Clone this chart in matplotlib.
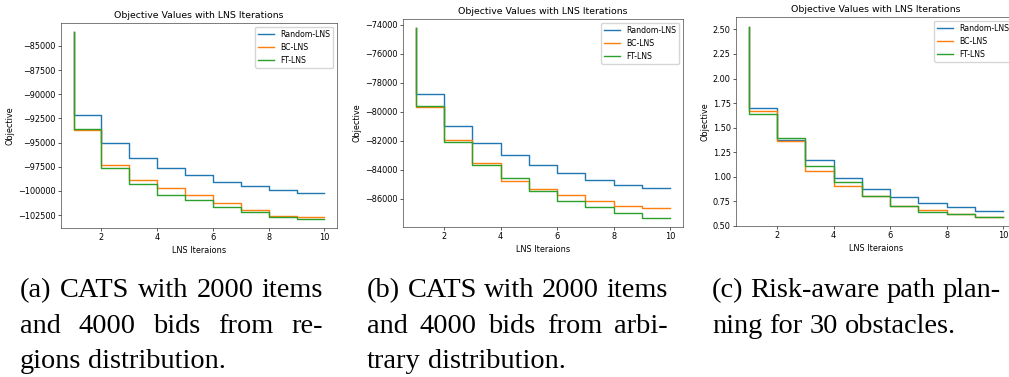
import matplotlib
matplotlib.use("Agg")
import matplotlib.pyplot as plt

# ---- data ----
iters = list(range(1, 11))
series_names = ["Random-LNS", "BC-LNS", "FT-LNS"]

# (a) CATS regions
regions_random = [-83600, -92200, -95000, -96550, -97600, -98380, -99030, -99480, -99890, -100230]
regions_bc = [-83600, -93750, -97280, -98830, -99720, -100400, -101220, -101980, -102560, -102730]
regions_ft = [-83600, -93640, -97660, -99270, -100400, -100950, -101670, -102220, -102660, -102870]

# (b) CATS arbitrary
arbitrary_random = [-74250, -78800, -80970, -82140, -82940, -83670, -84200, -84680, -85060, -85250]
arbitrary_bc = [-74250, -79690, -81930, -83510, -84790, -85300, -85700, -86160, -86480, -86640]
arbitrary_ft = [-74250, -79600, -82090, -83670, -84560, -85430, -86160, -86550, -86960, -87280]

# (c) risk-aware path planning
path_random = [2.53, 1.703, 1.37, 1.172, 0.99, 0.878, 0.79, 0.733, 0.689, 0.649]
path_bc = [2.53, 1.669, 1.365, 1.057, 0.909, 0.80, 0.703, 0.659, 0.625, 0.595]
path_ft = [2.53, 1.642, 1.395, 1.105, 0.946, 0.804, 0.70, 0.645, 0.618, 0.595]

captions = [
    ["(a) CATS with 2000 items", "and 4000 bids from re-", "gions distribution."],
    ["(b) CATS with 2000 items", "and 4000 bids from arbi-", "trary distribution."],
    ["(c) Risk-aware path plan-", "ning for 30 obstacles."],
]

W, H = 1009, 377
s = 0.56  # the panels are shrunk copies of default matplotlib figures
plt.rcParams.update({
    "font.size": 10.5 * s,
    "axes.titlesize": 12 * s,
    "axes.titlepad": 6 * s,
    "axes.labelpad": 4 * s,
    "lines.linewidth": 1.8 * s,
    "axes.linewidth": 0.8 * s,
    "axes.edgecolor": "#333333",
    "xtick.major.size": 3.5 * s,
    "ytick.major.size": 3.5 * s,
    "xtick.major.width": 0.8 * s,
    "ytick.major.width": 0.8 * s,
    "xtick.major.pad": 3.5 * s,
    "ytick.major.pad": 3.5 * s,
    "legend.fontsize": 10 * s,
    "legend.framealpha": 0.8,
})

fig = plt.figure(figsize=(W / 100, H / 100), dpi=100)

# panel boxes in pixels: left, top, right, bottom
boxes = [(61, 23, 337, 228), (403, 19, 683, 227), (736, 17, 1016, 226)]
panels = [
    (regions_random, regions_bc, regions_ft),
    (arbitrary_random, arbitrary_bc, arbitrary_ft),
    (path_random, path_bc, path_ft),
]

for (l, t, r, b), data in zip(boxes, panels):
    ax = fig.add_axes([l / W, 1 - b / H, (r - l) / W, (b - t) / H])
    for name, vals in zip(series_names, data):
        ax.step(iters, vals, where="pre", label=name)
    ax.set_title("Objective Values with LNS Iterations")
    ax.set_xlabel("LNS Iteraions")
    ax.set_ylabel("Objective")
    ax.legend(loc="upper right")

# captions, justified like the paper columns
cap_font = dict(family="Liberation Serif", size=20.4, va="baseline", ha="left")
cap_x = [20, 367, 712]
cap_w = [303, 301, None]
baselines = [297, 333, 368]

renderer = fig.canvas.get_renderer()
space = 0.25 * 20.4 * 100 / 72
for x0, width, lines in zip(cap_x, cap_w, captions):
    for i, line in enumerate(lines):
        words = line.split(" ")
        texts = [fig.text(0, 0, w, **cap_font) for w in words]
        ws = [tx.get_window_extent(renderer).width for tx in texts]
        gap = space
        if width is not None and i < len(lines) - 1 and len(words) > 1:
            gap = (width - sum(ws)) / (len(words) - 1)
        x = x0
        for tx, w in zip(texts, ws):
            tx.set_position((x / W, 1 - baselines[i] / H))
            x += w + gap

fig.savefig("out.png", dpi=100)
